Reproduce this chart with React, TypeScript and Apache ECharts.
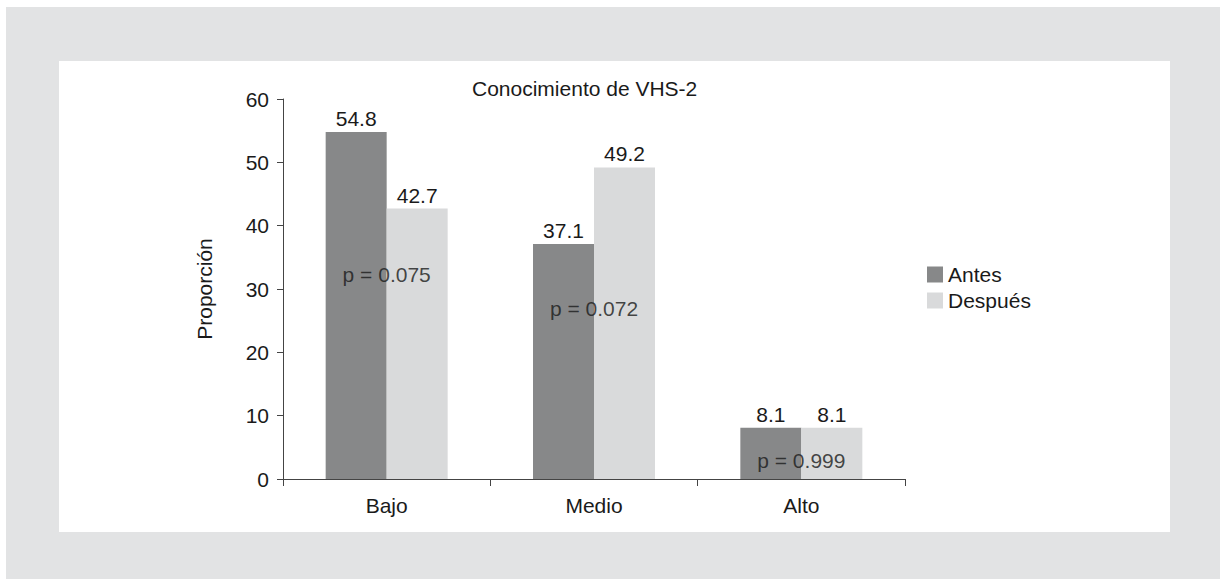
import React, { useEffect, useRef } from "react";
import * as echarts from "echarts";

const categories = ["Bajo", "Medio", "Alto"];
const antes = [54.8, 37.1, 8.1];
const despues = [42.7, 49.2, 8.1];
const pLabels = ["p = 0.075", "p = 0.072", "p = 0.999"];
const pLabelY = [32.3, 27, 3];
const yTicks = { min: 0, max: 60, interval: 10 };

const FONT = "'Liberation Sans', Arial, Helvetica, sans-serif";
const TXT = "#1a1a1a";
const FS = 21;

export default function App() {
  const ref = useRef<HTMLDivElement>(null);
  useEffect(() => {
    if (!ref.current) return;
    const chart = echarts.init(ref.current, undefined, { renderer: "svg" });
    chart.setOption({
      animation: false,
      backgroundColor: "transparent",
      textStyle: { fontFamily: FONT },
      title: {
        text: "Conocimiento de VHS-2",
        left: 467,
        top: 73,
        textStyle: { fontFamily: FONT, fontSize: FS, fontWeight: "normal", color: TXT },
      },
      legend: {
        orient: "vertical",
        left: 922,
        top: 259,
        itemWidth: 16,
        itemHeight: 16,
        itemGap: 5,
        icon: "rect",
        textStyle: { fontFamily: FONT, fontSize: FS, color: TXT },
        data: ["Antes", "Después"],
      },
      grid: { left: 283, right: 315, top: 99, bottom: 100, containLabel: false },
      xAxis: {
        type: "category",
        data: categories,
        axisLine: { lineStyle: { color: "#444", width: 1 } },
        axisTick: { show: true, length: 7, lineStyle: { color: "#444" } },
        axisLabel: { fontFamily: FONT, fontSize: FS, color: TXT, margin: 16 },
      },
      yAxis: {
        type: "value",
        min: yTicks.min,
        max: yTicks.max,
        interval: yTicks.interval,
        name: "Proporción",
        nameLocation: "middle",
        nameGap: 68,
        nameRotate: 90,
        nameTextStyle: { fontFamily: FONT, fontSize: FS, color: TXT },
        splitLine: { show: false },
        axisLine: { show: true, lineStyle: { color: "#444", width: 1 } },
        axisTick: { show: true, length: 6, lineStyle: { color: "#444" } },
        axisLabel: { fontFamily: FONT, fontSize: FS, color: TXT, margin: 14 },
      },
      series: [
        {
          name: "Antes",
          type: "bar",
          data: antes,
          barWidth: 61,
          barGap: "0%",
          itemStyle: { color: "#878889" },
          label: { show: true, position: "top", distance: 3, fontFamily: FONT, fontSize: FS, color: TXT },
        },
        {
          name: "Después",
          type: "bar",
          data: despues,
          barWidth: 61,
          barGap: "0%",
          itemStyle: { color: "#d9dadb" },
          label: { show: true, position: "top", distance: 3, fontFamily: FONT, fontSize: FS, color: TXT },
        },
        {
          name: "p",
          type: "scatter",
          data: pLabelY.map((v, i) => [categories[i], v]),
          symbolSize: 1,
          itemStyle: { color: "rgba(0,0,0,0)" },
          z: 5,
          label: {
            show: true,
            position: "inside",
            formatter: (p: any) => pLabels[p.dataIndex],
            fontFamily: FONT,
            fontSize: FS,
            color: TXT,
          },
          tooltip: { show: false },
        },
      ],
    });
    return () => chart.dispose();
  }, []);

  return (
    <div style={{ position: "fixed", left: 0, top: 0, width: 1220, height: 579, background: "#ffffff" }}>
      <div style={{ position: "absolute", left: 6, top: 7, right: 0, bottom: 0, background: "#e2e3e4" }} />
      <div style={{ position: "absolute", left: 59, top: 61, width: 1111, height: 471, background: "#ffffff" }} />
      <div ref={ref} style={{ position: "absolute", left: 0, top: 0, width: 1220, height: 579 }} />
    </div>
  );
}
